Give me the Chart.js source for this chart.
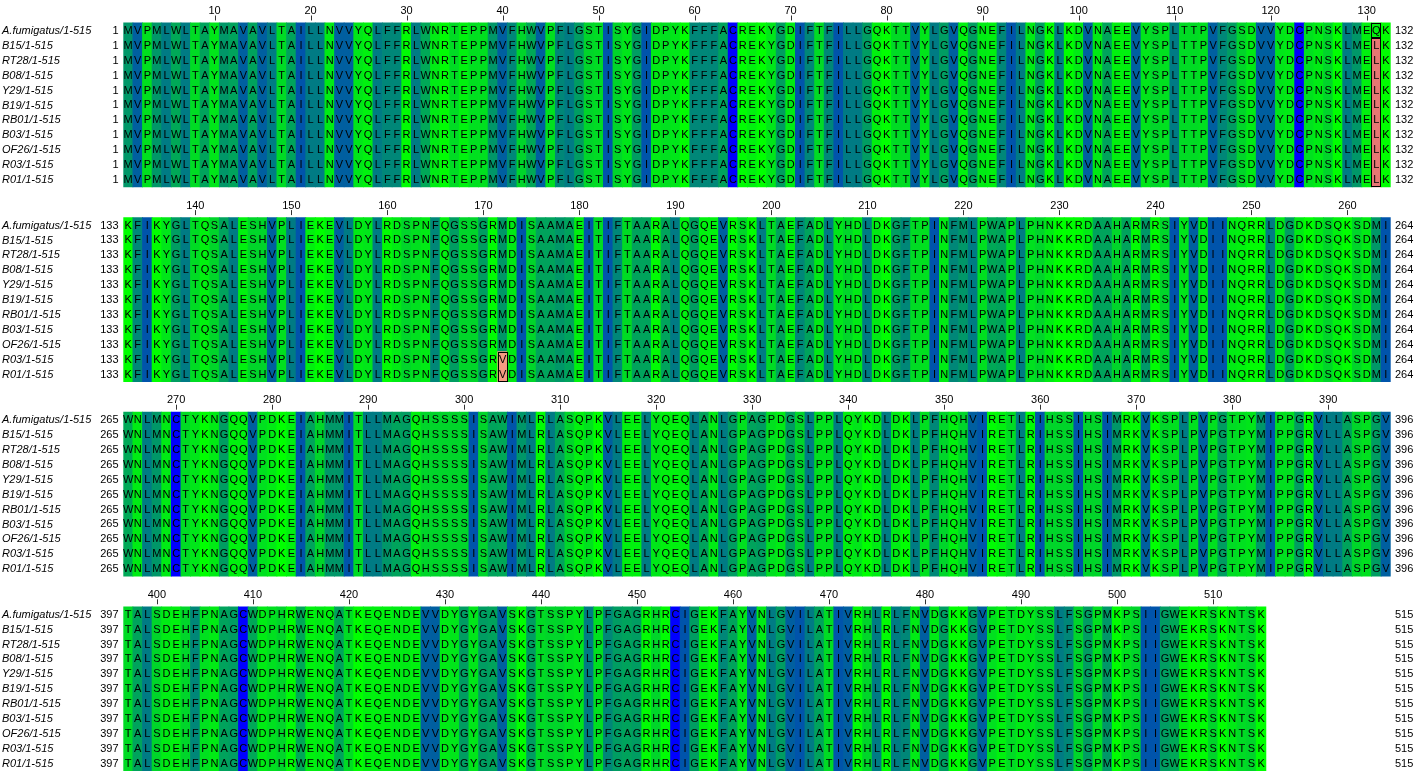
<!DOCTYPE html>
<html>
<head>
<meta charset="utf-8">
<script src="https://cdn.jsdelivr.net/npm/chart.js@4.4.0/dist/chart.umd.min.js"></script>
<style>
  html, body { margin: 0; padding: 0; background: #ffffff; }
  #wrap { position: relative; width: 1417px; height: 774px; }
</style>
</head>
<body>
<div id="wrap"><canvas id="c"></canvas></div>
<script>
// ---------------- DATA ----------------
const sequenceNames = [
  "A.fumigatus/1-515", "B15/1-515", "RT28/1-515", "B08/1-515", "Y29/1-515",
  "B19/1-515", "RB01/1-515", "B03/1-515", "OF26/1-515", "R03/1-515", "R01/1-515"
];

// Reference sequence (A.fumigatus), one string per alignment block
const referenceBlocks = [
  "MVPMLWLTAYMAVAVLTAILLNVVYQLFFRLWNRTEPPMVFHWVPFLGSTISYGIDPYKFFFACREKYGDIFTFILLGQKTTVYLGVQGNEFILNGKLKDVNAEEVYSPLTTPVFGSDVVYDCPNSKLMEQK",
  "KFIKYGLTQSALESHVPLIEKEVLDYLRDSPNFQGSSGRMDISAAMAEITIFTAARALQGQEVRSKLTAEFADLYHDLDKGFTPINFMLPWAPLPHNKKRDAAHARMRSIYVDIINQRRLDGDKDSQKSDMI",
  "WNLMNCTYKNGQQVPDKEIAHMMITLLMAGQHSSSSISAWIMLRLASQPKVLEELYQEQLANLGPAGPDGSLPPLQYKDLDKLPFHQHVIRETLRIHSSIHSIMRKVKSPLPVPGTPYMIPPGRVLLASPGV",
  "TALSDEHFPNAGCWDPHRWENQATKEQENDEVVDYGYGAVSKGTSSPYLPFGAGRHRCIGEKFAYVNLGVILATIVRHLRLFNVDGKKGVPETDYSSLFSGPMKPSIIGWEKRSKNTSK"
];
const blockStarts = [1, 133, 265, 397];
const blockEnds   = [132, 264, 396, 515];

// Residue substitutions relative to the reference
const substitutions = [
  { pos: 131, res: "L", names: ["B15/1-515", "RT28/1-515", "B08/1-515", "Y29/1-515", "B19/1-515",
                                 "RB01/1-515", "B03/1-515", "OF26/1-515", "R03/1-515", "R01/1-515"] },
  { pos: 172, res: "V", names: ["R03/1-515", "R01/1-515"] }
];

// Ruler tick labels
const rulerTicks = [10, 20, 30, 40, 50, 60, 70, 80, 90, 100, 110, 120, 130,
  140, 150, 160, 170, 180, 190, 200, 210, 220, 230, 240, 250, 260,
  270, 280, 290, 300, 310, 320, 330, 340, 350, 360, 370, 380, 390,
  400, 410, 420, 430, 440, 450, 460, 470, 480, 490, 500, 510];

// Outlined (selected) cell groups: residue position, first and last row
const selections = [
  { pos: 131, from: 0, to: 0 },
  { pos: 131, from: 1, to: 10 },
  { pos: 172, from: 9, to: 10 }
];

// Buried index values (Jalview "Buried Index" colour scheme)
const buriedIndex = { A: 1.7, R: 0.1, N: 0.4, D: 0.4, C: 4.6, Q: 0.3, E: 0.3, G: 1.8, H: 0.8, I: 3.1,
  L: 2.4, K: 0.05, M: 1.9, F: 2.2, P: 0.6, S: 0.8, T: 0.7, W: 1.6, Y: 0.5, V: 2.9 };

// ---------------- STYLE / LAYOUT ----------------
const W = 1417, H = 774;
const ROW_H = 14.9;           // px per row
const FIRST_TOP = 23.0;       // px, top of first block
const BLOCK_PITCH = 13.06;    // rows from one block top to the next (ruler + 11 sequences)
const COL_LEFT = 123.3, COL_RIGHT = 1390.7;
const BLOCK_COLS = 132;
const variantFill = { 131: "#e77673", 172: "#f59b82" };
const FONT = '"Liberation Sans", Arial, sans-serif';

function buriedColor(r) {
  const min = 0.05, max = 4.6;
  const t = (buriedIndex[r] - min) / (max - min);
  const g = Math.floor((1 - t) * 255 + 0.5), b = Math.floor(t * 255 + 0.5);
  return `rgb(0,${g},${b})`;
}

// Build the full aligned sequences
const refSeq = referenceBlocks.join("");
const sequences = sequenceNames.map(name => {
  const arr = refSeq.split("");
  substitutions.forEach(s => { if (s.names.includes(name)) arr[s.pos - 1] = s.res; });
  return arr;
});

const rowValue = (b, r) => b * BLOCK_PITCH + r;

// Build bar data: runs of identical residues down each column
const cells = [];
blockStarts.forEach((start, b) => {
  for (let pos = start; pos <= blockEnds[b]; pos++) {
    const col = pos - start + 1;
    let r0 = 0;
    for (let r = 1; r <= sequences.length; r++) {
      const cur = sequences[r0][pos - 1];
      const isVar0 = cur !== sequences[0][pos - 1];
      if (r === sequences.length || sequences[r][pos - 1] !== cur) {
        cells.push({ x: col, y: [rowValue(b, r0), rowValue(b, r)], res: cur, pos, variant: isVar0 });
        r0 = r;
      }
    }
  }
});

const yMin = -FIRST_TOP / ROW_H;
const yMax = yMin + H / ROW_H;

const textPlugin = {
  id: "alignmentText",
  afterDatasetsDraw(chart) {
    const ctx = chart.ctx, xs = chart.scales.x, ys = chart.scales.y;
    ctx.save();
    // residues
    ctx.fillStyle = "#000";
    ctx.textAlign = "center";
    ctx.textBaseline = "middle";
    ctx.font = "11px " + FONT;
    blockStarts.forEach((start, b) => {
      for (let r = 0; r < sequences.length; r++) {
        const yc = ys.getPixelForValue(rowValue(b, r) + 0.5);
        for (let pos = start; pos <= blockEnds[b]; pos++) {
          ctx.fillText(sequences[r][pos - 1], xs.getPixelForValue(pos - start + 1), yc + 0.5);
        }
      }
    });
    // selection outlines
    ctx.strokeStyle = "#000";
    ctx.lineWidth = 1;
    selections.forEach(s => {
      const b = blockStarts.findIndex((st, i) => s.pos >= st && s.pos <= blockEnds[i]);
      const col = s.pos - blockStarts[b] + 1;
      const x0 = xs.getPixelForValue(col - 0.5), x1 = xs.getPixelForValue(col + 0.5);
      const y0 = ys.getPixelForValue(rowValue(b, s.from)), y1 = ys.getPixelForValue(rowValue(b, s.to + 1));
      ctx.strokeRect(Math.round(x0) + 0.5, Math.round(y0) + 0.5, Math.round(x1 - x0) - 1, Math.round(y1 - y0) - 1);
    });
    // names and numbers
    ctx.textBaseline = "middle";
    blockStarts.forEach((start, b) => {
      for (let r = 0; r < sequences.length; r++) {
        const yc = ys.getPixelForValue(rowValue(b, r) + 0.5) + 0.5;
        ctx.font = "italic 11px " + FONT;
        ctx.textAlign = "left";
        ctx.fillText(sequenceNames[r], 2, yc);
        ctx.font = "11px " + FONT;
        ctx.textAlign = "right";
        ctx.fillText(String(start), 118.5, yc);
        ctx.textAlign = "left";
        ctx.fillText(String(blockEnds[b]), 1395, yc);
      }
    });
    // ruler
    ctx.font = "11px " + FONT;
    ctx.textAlign = "center";
    ctx.textBaseline = "alphabetic";
    ctx.strokeStyle = "#333";
    rulerTicks.forEach(n => {
      const b = blockStarts.findIndex((st, i) => n >= st && n <= blockEnds[i]);
      const col = n - blockStarts[b] + 1;
      const x = xs.getPixelForValue(col);
      const top = ys.getPixelForValue(rowValue(b, 0));
      ctx.fillText(String(n), x, top - 9);
      ctx.beginPath();
      const xx = Math.round(x) + 0.5;
      ctx.moveTo(xx, top - 7.5);
      ctx.lineTo(xx, top - 2.5);
      ctx.stroke();
    });
    ctx.restore();
  }
};

new Chart(document.getElementById("c"), {
  type: "bar",
  data: {
    datasets: [{
      data: cells,
      backgroundColor: c => (c.raw && c.raw.variant) ? variantFill[c.raw.pos] : buriedColor(c.raw ? c.raw.res : "A"),
      borderWidth: 0,
      barPercentage: 1,
      categoryPercentage: 1,
      inflateAmount: 0.4
    }]
  },
  options: {
    responsive: true,
    maintainAspectRatio: false,
    animation: false,
    events: [],
    layout: { padding: { left: COL_LEFT, right: W - COL_RIGHT, top: 0, bottom: 0 } },
    scales: {
      x: { type: "linear", min: 0.5, max: BLOCK_COLS + 0.5, display: false, offset: false },
      y: { type: "linear", min: yMin, max: yMax, reverse: true, display: false }
    },
    plugins: { legend: { display: false }, tooltip: { enabled: false } }
  },
  plugins: [textPlugin]
});
</script>
</body>
</html>
